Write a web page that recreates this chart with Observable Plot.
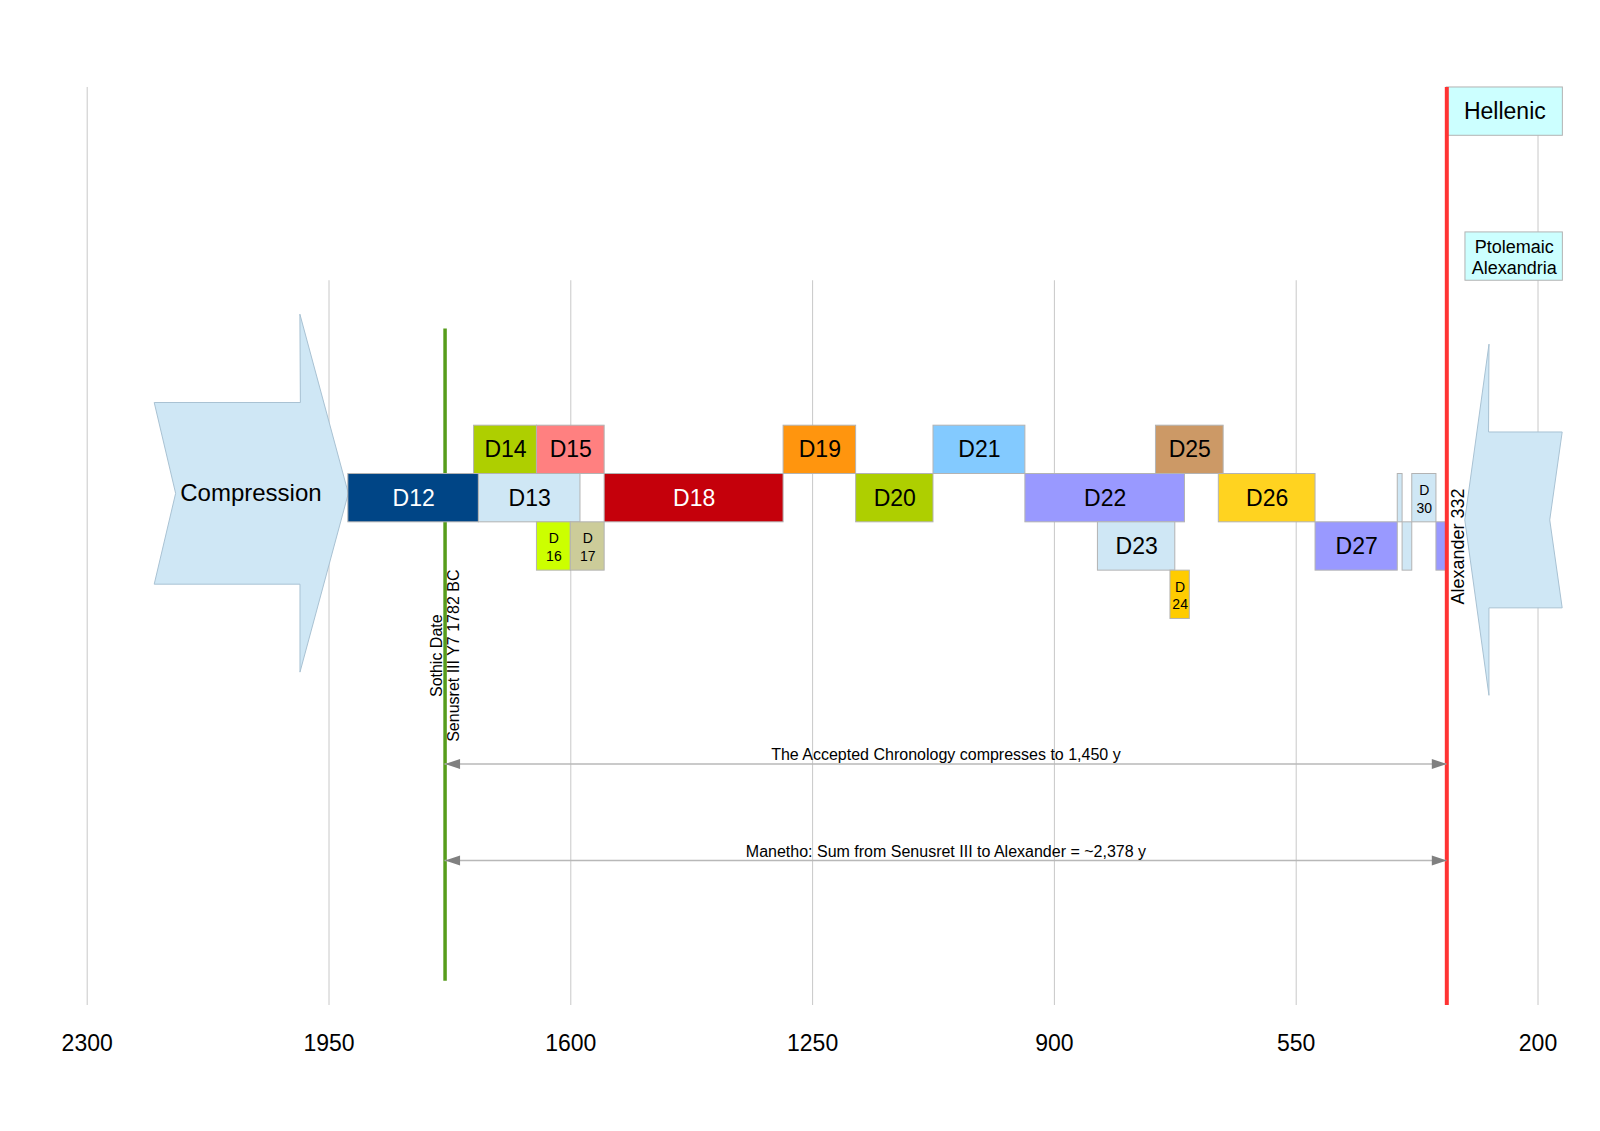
<!DOCTYPE html>
<html>
<head>
<meta charset="utf-8">
<script src="https://cdn.jsdelivr.net/npm/d3@7"></script>
<script src="https://cdn.jsdelivr.net/npm/@observablehq/plot@0.6"></script>
<style>
  html, body { margin: 0; padding: 0; background: #fff; overflow: hidden; }
  svg { display: block; }
</style>
</head>
<body>
<div id="chart"></div>
<script>
// ---- Data (years BC, lanes: 0 = main row, negative = above, positive = below) ----
const dynasties = ["D12","D13","D14","D15","D16","D17","D18","D19","D20","D21","D22","D23","D24","D25","D26","D27","D28","D29","D30","D31"];
const starts    = [1922, 1733, 1740, 1649, 1649, 1600, 1551, 1292, 1187, 1075, 942, 837, 732, 753, 662, 522, 403, 396, 382, 347];
const ends      = [1733, 1586, 1649, 1551, 1600, 1551, 1292, 1187, 1075,  942, 711, 725, 704, 655, 522, 403, 396, 382, 347, 332];
const lanes     = [0, 0, -1, -1, 1, 1, 0, -1, 0, -1, 0, 1, 2, -1, 0, 1, 0, 1, 0, 1];
const labels    = ["D12","D13","D14","D15","D\n16","D\n17","D18","D19","D20","D21","D22","D23","D\n24","D25","D26","D27","","","D\n30",""];
const fills     = ["#004586","#cfe7f5","#aecf00","#ff8080","#ccff00","#cccc99","#c5000b","#ff950e","#aecf00","#83caff",
                   "#9999ff","#cfe7f5","#ffcc00","#cc9966","#ffd320","#9999ff","#cfe7f5","#cfe7f5","#cfe7f5","#9999ff"];
const textColors = ["#ffffff","#000000","#000000","#000000","#000000","#000000","#ffffff","#000000","#000000","#000000",
                    "#000000","#000000","#000000","#000000","#000000","#000000","#000000","#000000","#000000","#000000"];

const eraNames  = ["Hellenic", "Ptolemaic\nAlexandria"];
const eraStarts = [332, 305];
const eraEnds   = [164, 164];
const eraLanes  = [-8, -5];

const tickYears = [2300, 1950, 1600, 1250, 900, 550, 200];
const gridTops  = [-8.5, -4.5, -4.5, -4.5, -4.5, -4.5, -8.5];

const markerYears   = [1782, 332];
const markerTops    = [-3.5, -8.5];
const markerBottoms = [10, 10.5];
const markerColors  = ["#579d1c", "#ff3333"];
const markerLabels  = ["Sothic Date\nSenusret III Y7 1782 BC", "Alexander 332"];
const markerLabelLanes = [3.26, 1.0];

const spanLabels = ["The Accepted Chronology compresses to 1,450 y", "Manetho: Sum from Senusret III to Alexander = ~2,378 y"];
const spanLanes  = [5.5, 7.5];

// block arrows: tail, notch, head base, tip (years) ; centre lane ; half heights (lanes)
const arrowNames  = ["Compression", ""];
const arrowTails  = [2203, 165];
const arrowNotch  = [2172, 183];
const arrowBases  = [1992, 271];
const arrowTips   = [1922, 306];
const arrowLanes  = [-0.1, 0.45];
const arrowShaft  = [1.88, 1.82];
const arrowHead   = [3.70, 3.63];
const arrowLabelYears = [2063, null];

// ---- Build tables ----
const boxes = dynasties.map((d, i) => ({
  name: d, start: starts[i], end: ends[i], lane: lanes[i],
  label: labels[i], fill: fills[i], textColor: textColors[i]
}));
const eras = eraNames.map((n, i) => ({name: n, start: eraStarts[i], end: eraEnds[i], lane: eraLanes[i]}));
const grid = tickYears.map((y, i) => ({year: y, top: gridTops[i]}));
const markers = markerYears.map((y, i) => ({year: y, top: markerTops[i], bottom: markerBottoms[i], color: markerColors[i], label: markerLabels[i], labelLane: markerLabelLanes[i]}));
const spans = spanLabels.map((t, i) => ({label: t, lane: spanLanes[i], from: markerYears[0], to: markerYears[1]}));

const arrowPolys = arrowTails.map((t, i) => {
  const L = arrowLanes[i], s = arrowShaft[i], h = arrowHead[i], b = arrowBases[i];
  return [
    [b, L - h], [arrowTips[i], L], [b, L + h], [b, L + s],
    [t, L + s], [arrowNotch[i], L], [t, L - s], [b, L - s]
  ].map(([x, y]) => ({x, y}));
});
const arrowTexts = arrowNames.map((n, i) => ({name: n, year: arrowLabelYears[i], lane: arrowLanes[i]})).filter(d => d.name);

// custom arrow-head symbols (tip at anchor point)
const headLeft = {draw(ctx) { ctx.moveTo(0, 0); ctx.lineTo(15, -5); ctx.lineTo(15, 5); ctx.closePath(); }};
const headRight = {draw(ctx) { ctx.moveTo(0, 0); ctx.lineTo(-15, -5); ctx.lineTo(-15, 5); ctx.closePath(); }};

const FONT = '"Liberation Sans", Arial, "DejaVu Sans", sans-serif';

const chart = Plot.plot({
  width: 1600,
  height: 1131,
  marginLeft: 86.7,
  marginRight: 62.5,
  marginTop: 0,
  marginBottom: 126,
  style: {fontFamily: FONT, fontSize: "23px", background: "#ffffff", color: "#000"},
  x: {domain: [2300, 200], ticks: tickYears, tickSize: 0, tickPadding: 29, tickFormat: d => String(d), label: null},
  y: {domain: [-10.3, 10.5], range: [0, 1005], axis: null},
  color: {type: "identity"},
  marks: [
    Plot.ruleX(grid, {x: "year", y1: "top", y2: 10.5, stroke: "#c8c8c8", strokeWidth: 1}),
    ...arrowPolys.map(p => Plot.line(p, {x: "x", y: "y", curve: "linear-closed", fill: "#cfe7f5", stroke: "#a9c2d3", strokeWidth: 1})),
    Plot.ruleX(markers.slice(0, 1), {x: "year", y1: "top", y2: "bottom", stroke: "color", strokeWidth: 3.5}),
    Plot.rect(boxes, {x1: "start", x2: "end", y1: d => d.lane - 0.5, y2: d => d.lane + 0.5, fill: "fill", stroke: "#b3b3b3", strokeWidth: 1}),
    Plot.rect(eras, {x1: "start", x2: "end", y1: d => d.lane - 0.5, y2: d => d.lane + 0.5, fill: "#ccffff", stroke: "#b3b3b3", strokeWidth: 1}),
    Plot.ruleX(markers.slice(1), {x: "year", y1: "top", y2: "bottom", stroke: "color", strokeWidth: 4}),
    // span double arrows
    Plot.ruleY(spans, {y: "lane", x1: "from", x2: "to", stroke: "#b8b8b8", strokeWidth: 1.5}),
    Plot.dot(spans, {x: "from", y: "lane", symbol: headLeft, fill: "#808080", stroke: null, r: 5}),
    Plot.dot(spans, {x: "to", y: "lane", symbol: headRight, fill: "#808080", stroke: null, r: 5}),
    Plot.text(spans, {x: d => (d.from + d.to) / 2, y: "lane", text: "label", dy: -9, fontSize: 16, fill: "#000"}),
    // dynasty labels
    Plot.text(boxes.filter(d => d.label && !d.label.includes("\n")), {x: d => (d.start + d.end) / 2, y: "lane", text: "label", fill: "textColor", fontSize: 23}),
    Plot.text(boxes.filter(d => d.label.includes("\n")), {x: d => (d.start + d.end) / 2, y: "lane", text: "label", fill: "textColor", fontSize: 14, lineHeight: 1.25}),
    // era labels
    Plot.text(eras.slice(0, 1), {x: d => (d.start + d.end) / 2, y: "lane", text: "name", fontSize: 23, fill: "#000"}),
    Plot.text(eras.slice(1), {x: d => (d.start + d.end) / 2, y: "lane", text: "name", fontSize: 18, lineHeight: 1.18, fill: "#000"}),
    // arrow label
    Plot.text(arrowTexts, {x: "year", y: "lane", text: "name", fontSize: 24, fill: "#000"}),
    // marker labels
    Plot.text(markers.slice(0, 1), {x: "year", y: "labelLane", text: "label", rotate: -90, fontSize: 16, lineHeight: 1.08, fill: "#000"}),
    Plot.text(markers.slice(1), {x: "year", y: "labelLane", text: "label", rotate: -90, dx: 11, fontSize: 18, fill: "#000"})
  ]
});
document.getElementById("chart").appendChild(chart);
</script>
</body>
</html>
